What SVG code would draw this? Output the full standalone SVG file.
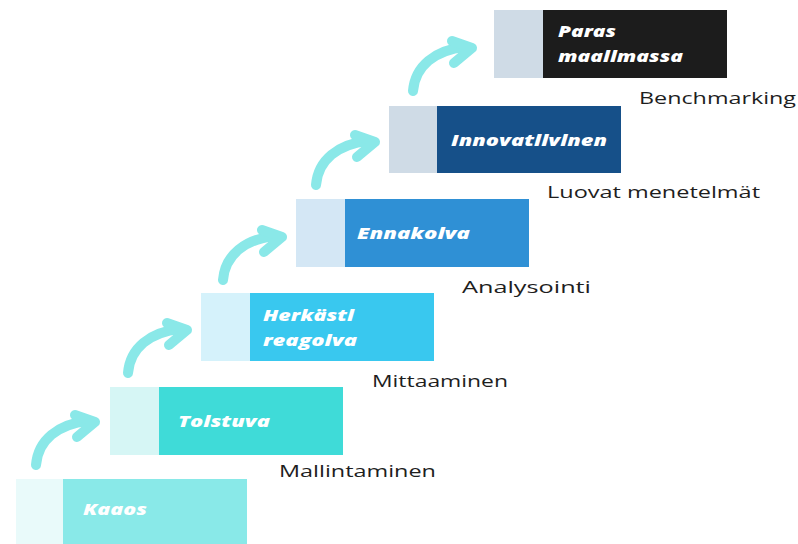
<svg xmlns="http://www.w3.org/2000/svg" xmlns:xlink="http://www.w3.org/1999/xlink" width="798" height="544" viewBox="0 0 798 544">
<style>
.lt{font-family:"Open Sans","Liberation Sans",sans-serif;font-size:17px;fill:#1e1e1e;}
.bt{font-family:"Open Sans","Liberation Sans",sans-serif;font-size:15px;font-weight:800;font-style:italic;fill:#ffffff;}
.arr{fill:none;stroke:#8ae8e8;stroke-width:10;stroke-linecap:round;stroke-linejoin:round;}
</style>
<defs>
<g id="arrow">
<path class="arr" d="M -64 43 C -62 18, -42 2, -12 -1"/>
<polyline class="arr" points="-25,-7 -5,0 -23,15"/>
</g>
</defs>
<rect width="798" height="544" fill="#ffffff"/>
<g id="connectors">
<use xlink:href="#arrow" transform="translate(100,422)"/>
<use xlink:href="#arrow" transform="translate(192,330)"/>
<use xlink:href="#arrow" transform="translate(287,237)"/>
<use xlink:href="#arrow" transform="translate(380,142)"/>
<use xlink:href="#arrow" transform="translate(477,48)"/>
</g>
<g id="kaaos">
<rect x="16" y="479" width="47" height="65" fill="#e9fafa"/>
<rect x="63" y="479" width="184" height="65" fill="#89e9e8"/>
<text class="bt" x="83" y="515" textLength="64" lengthAdjust="spacingAndGlyphs">Kaaos</text>
</g>
<g id="toistuva">
<rect x="110" y="387" width="49" height="68" fill="#d6f6f5"/>
<rect x="159" y="387" width="184" height="68" fill="#3fdbd8"/>
<text class="bt" x="178" y="427" textLength="92" lengthAdjust="spacingAndGlyphs">Tolstuva</text>
<text class="lt" x="279" y="477" textLength="157" lengthAdjust="spacingAndGlyphs">Mallintaminen</text>
</g>
<g id="herkasti">
<rect x="201" y="293" width="49" height="68" fill="#d5f2fb"/>
<rect x="250" y="293" width="184" height="68" fill="#39c8ef"/>
<text class="bt" x="263" y="321" textLength="91" lengthAdjust="spacingAndGlyphs">Herkästl</text>
<text class="bt" x="263" y="346" textLength="94" lengthAdjust="spacingAndGlyphs">reagolva</text>
<text class="lt" x="372" y="387" textLength="136" lengthAdjust="spacingAndGlyphs">Mittaaminen</text>
</g>
<g id="ennakoiva">
<rect x="296" y="199" width="49" height="68" fill="#d4e7f5"/>
<rect x="345" y="199" width="184" height="68" fill="#2f90d5"/>
<text class="bt" x="357" y="239" textLength="113" lengthAdjust="spacingAndGlyphs">Ennakolva</text>
<text class="lt" x="462" y="293" textLength="129" lengthAdjust="spacingAndGlyphs">Analysointi</text>
</g>
<g id="innovatiivinen">
<rect x="389" y="106" width="48" height="67" fill="#cfdbe6"/>
<rect x="437" y="106" width="184" height="67" fill="#165089"/>
<text class="bt" x="451" y="146" textLength="156" lengthAdjust="spacingAndGlyphs">Innovatllvlnen</text>
<text class="lt" x="547" y="198" textLength="213" lengthAdjust="spacingAndGlyphs">Luovat menetelmät</text>
</g>
<g id="paras">
<rect x="494" y="10" width="49" height="68" fill="#cfdbe6"/>
<rect x="543" y="10" width="184" height="68" fill="#1c1c1c"/>
<text class="bt" x="558" y="37" textLength="58" lengthAdjust="spacingAndGlyphs">Paras</text>
<text class="bt" x="558" y="62" textLength="125" lengthAdjust="spacingAndGlyphs">maallmassa</text>
<text class="lt" x="639" y="104" textLength="157" lengthAdjust="spacingAndGlyphs">Benchmarking</text>
</g>
</svg>
